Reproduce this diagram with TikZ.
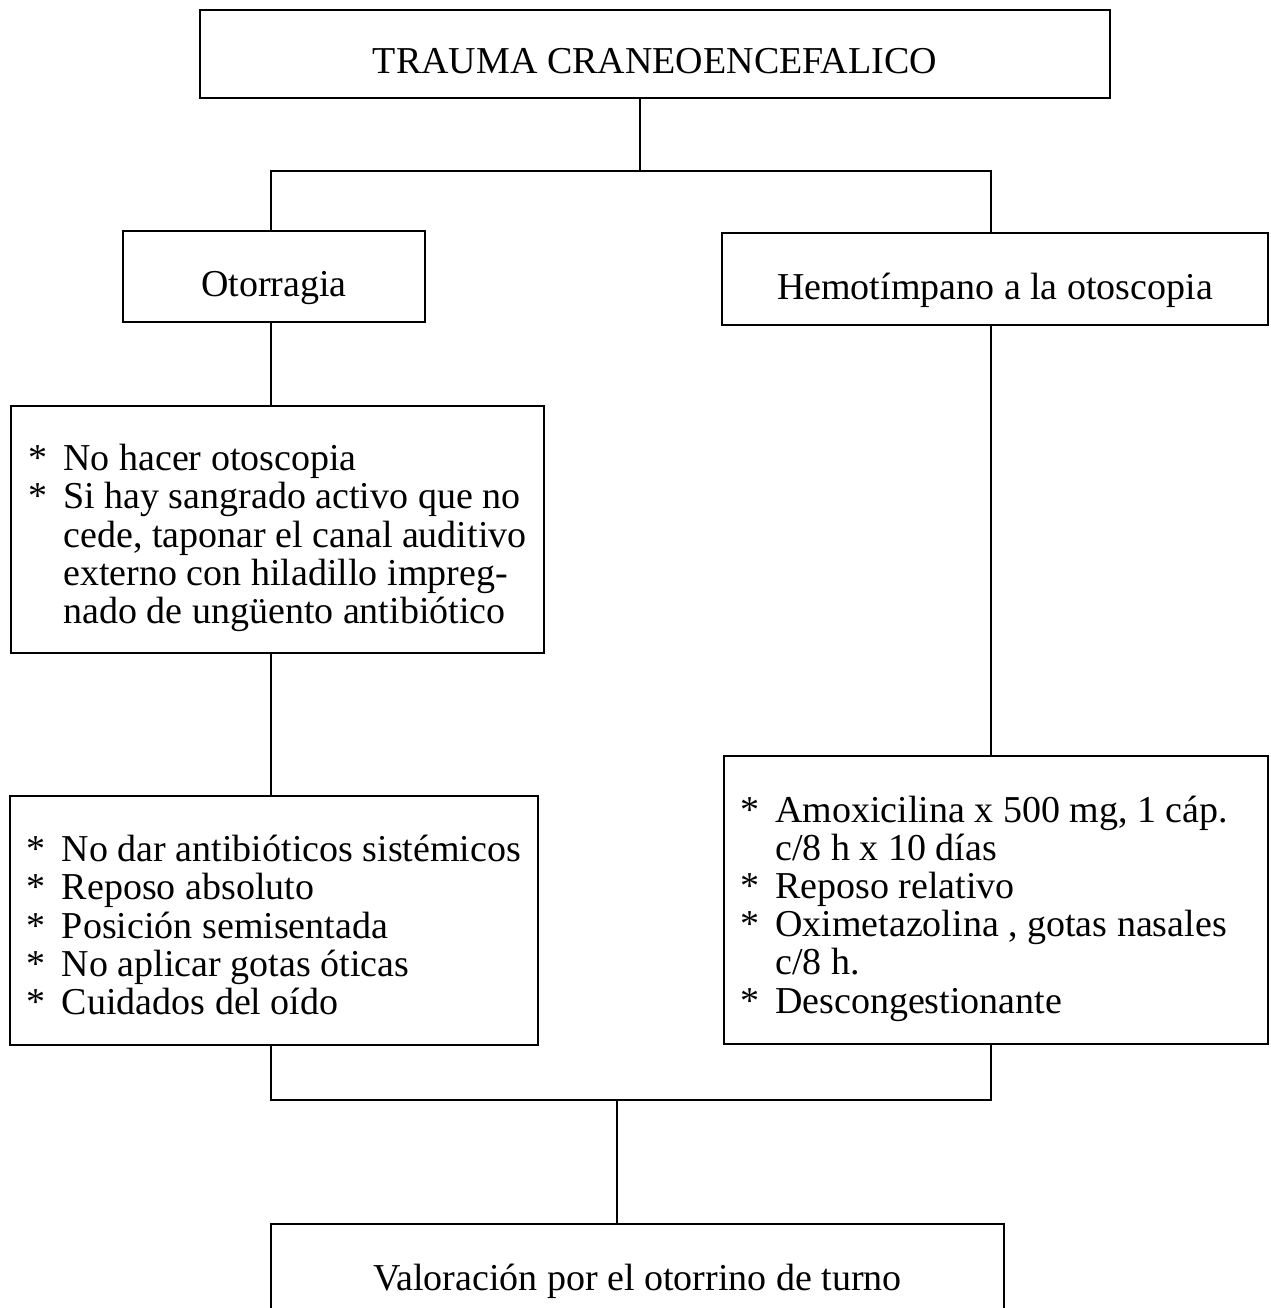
\documentclass[tikz,border=0pt]{standalone}
\usepackage{fontspec}
\setmainfont{Liberation Serif}

\newcommand{\primera}{\rule{0pt}{46.7pt}}

\begin{document}
\begin{tikzpicture}
				[
				x=1pt, y=-1pt, font=\fontsize{38}{38.2}\selectfont,
				%Voreinstellung für Kästen und Linien
				caja/.style={draw, line width=1.6pt, inner sep=0pt},
				titulo/.style={caja, text height=42pt, text depth=2pt},
				linea/.style={line width=1.6pt}
				]
				
				%Rahmen
				\useasboundingbox (0,0) rectangle (1270,1308);
				\clip (0,0) rectangle (1270,1308);
				
				%Kasten oben
				\node[titulo, minimum width=910pt, minimum height=88pt] (tce) at (655,54) {TRAUMA CRANEOENCEFALICO};
				
				%Zweige
				\node[titulo, minimum width=302pt, minimum height=91pt] (oto) at (274,276.5) {Otorragia};
				\node[titulo, minimum width=546pt, minimum height=92pt] (hemo) at (995,279) {Hemotímpano a la otoscopia};
				
				%Listen
				\node[caja, minimum width=533pt, minimum height=247pt] (cuidOto) at (277.5,529.5) {\begin{tabular}{@{}l@{\hspace{16pt}}l@{}}
						\primera{*} & No hacer otoscopia\\
						{*} & Si hay sangrado activo que no\\
						& cede, taponar el canal auditivo\\
						& externo con hiladillo impreg-\\
						& nado de ungüento antibiótico
					\end{tabular}};
				\node[caja, minimum width=528pt, minimum height=249pt] (medOto) at (274,920.5) {\begin{tabular}{@{}l@{\hspace{16pt}}l@{}}
						\primera{*} & No dar antibióticos sistémicos\\
						{*} & Reposo absoluto\\
						{*} & Posición semisentada\\
						{*} & No aplicar gotas óticas\\
						{*} & Cuidados del oído
					\end{tabular}};
				\node[caja, minimum width=544pt, minimum height=288pt] (medHemo) at (996,900) {\begin{tabular}{@{}l@{\hspace{16pt}}l@{}}
						\primera{*} & Amoxicilina x 500 mg, 1 cáp.\\
						& c/8 h x 10 días\\
						{*} & Reposo relativo\\
						{*} & Oximetazolina , gotas nasales\\
						& c/8 h.\\
						{*} & Descongestionante
					\end{tabular}\rule{24pt}{0pt}};
				
				%Kasten unten
				\node[titulo, minimum width=733pt, minimum height=92pt] (val) at (637.5,1270) {Valoración por el otorrino de turno};
				
				%Verzweigungspunkte
				\coordinate (izq) at (271,171);
				\coordinate (mit) at (640,171);
				\coordinate (der) at (991,171);
				\coordinate (uni) at (617,1100);
				
				%Linien
				\draw[linea] (tce.south -| mit) -- (mit);
				\draw[linea] (oto.north -| izq) -- (izq) -- (der) -- (hemo.north -| der);
				\draw[linea] (oto.south -| izq) -- (cuidOto.north -| izq);
				\draw[linea] (cuidOto.south -| izq) -- (medOto.north -| izq);
				\draw[linea] (hemo.south -| der) -- (medHemo.north -| der);
				\draw[linea] (medOto.south -| izq) -- (izq |- uni) -- (der |- uni) -- (medHemo.south -| der);
				\draw[linea] (uni) -- (val.north -| uni);
			\end{tikzpicture}
\end{document}
